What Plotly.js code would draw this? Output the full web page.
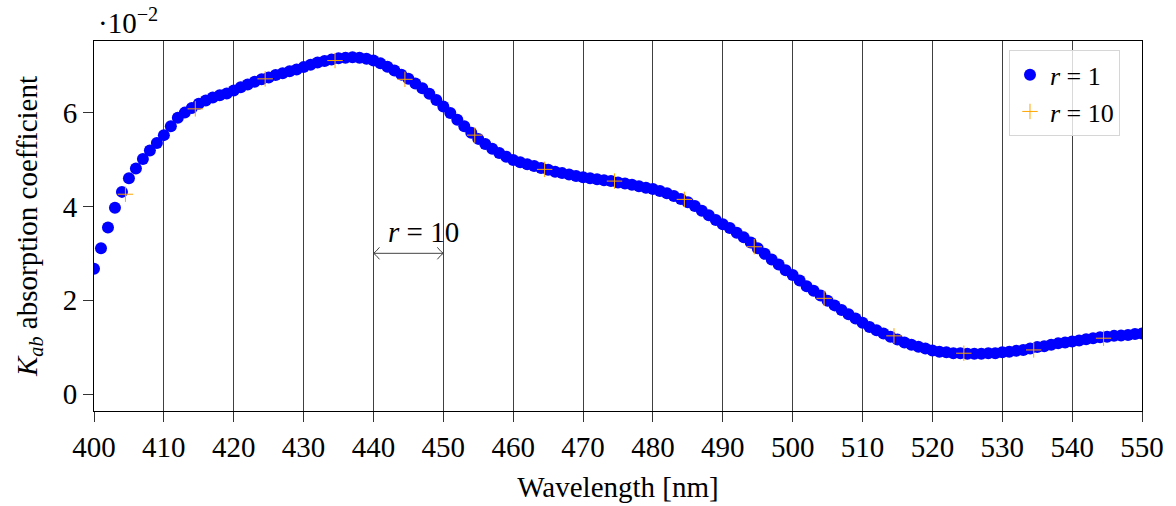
<!DOCTYPE html>
<html>
<head>
<meta charset="utf-8">
<script src="https://cdn.plot.ly/plotly-3.0.1.min.js"></script>
<style>html,body{margin:0;padding:0;background:#fff;}#chart{width:1176px;height:506px;}</style>
</head>
<body>
<div id="chart"></div>
<script>
// Wavelength grid (nm) for r = 1 series: one sample per nm from 400 to 550
const wlStart = 400, wlEnd = 550;
const kabR1 = [
  2.67,3.11,3.55,3.97,4.31,4.60,4.81,5.01,5.19,5.35,
  5.52,5.71,5.89,6.00,6.10,6.19,6.26,6.32,6.37,6.41,
  6.47,6.54,6.60,6.66,6.71,6.75,6.80,6.84,6.88,6.92,
  6.97,7.02,7.07,7.10,7.13,7.16,7.17,7.18,7.17,7.15,
  7.11,7.05,6.98,6.90,6.81,6.72,6.62,6.52,6.40,6.27,
  6.13,5.99,5.85,5.71,5.57,5.44,5.33,5.23,5.14,5.06,
  4.99,4.94,4.90,4.86,4.82,4.78,4.74,4.71,4.68,4.65,
  4.62,4.60,4.58,4.56,4.54,4.51,4.49,4.46,4.43,4.40,
  4.37,4.33,4.28,4.22,4.16,4.09,4.01,3.91,3.81,3.71,
  3.62,3.54,3.44,3.34,3.23,3.11,2.99,2.87,2.76,2.64,
  2.54,2.42,2.30,2.20,2.10,1.99,1.89,1.79,1.70,1.61,
  1.52,1.43,1.36,1.29,1.22,1.16,1.10,1.05,1.01,0.97,
  0.93,0.90,0.89,0.87,0.87,0.86,0.86,0.86,0.87,0.87,
  0.89,0.90,0.92,0.94,0.97,1.00,1.02,1.05,1.08,1.10,
  1.12,1.14,1.17,1.19,1.21,1.22,1.24,1.25,1.26,1.28,
  1.29
];
const wlR1 = [];
for (let w = wlStart; w <= wlEnd; w++) wlR1.push(w);

// r = 10 series
const wlR10 = [404.5,414.5,424.5,434.5,444.5,454.5,464.5,474.5,484.5,494.5,504.5,514.5,524.5,534.5,544.5];
const kabR10 = [4.26,6.08,6.72,7.11,6.71,5.52,4.79,4.54,4.15,3.14,2.04,1.24,0.87,0.94,1.19];

const xTicks = [400,410,420,430,440,450,460,470,480,490,500,510,520,530,540,550];
const yTicks = [0,2,4,6];

const FONT = "'Liberation Serif', 'DejaVu Serif', serif";
const FS = 29;

const traces = [
  {
    x: wlR1, y: kabR1, type: 'scatter', mode: 'markers', name: '<i>r</i> = 1',
    marker: {color: '#0000ff', size: 12, line: {width: 0}}
  },
  {
    x: wlR10, y: kabR10, type: 'scatter', mode: 'markers', name: '<i>r</i> = 10',
    marker: {color: '#ffa500', size: 11, symbol: 'cross-thin', line: {color: '#ffa500', width: 1}}
  }
];

const layout = {
  width: 1176, height: 506,
  margin: {l: 94, r: 34, t: 41, b: 95},
  paper_bgcolor: '#fff', plot_bgcolor: '#fff',
  font: {family: FONT, size: FS, color: '#000'},
  showlegend: true,
  legend: {
    x: 0.979, y: 0.975, xanchor: 'right', yanchor: 'top',
    bgcolor: 'rgba(255,255,255,0.8)', bordercolor: '#d6d6d6', borderwidth: 1,
    font: {family: FONT, size: 26}, itemwidth: 30, tracegroupgap: 0
  },
  xaxis: {
    range: [400, 550], tickvals: xTicks, ticktext: xTicks.map(String),
    showgrid: true, gridcolor: '#404040', gridwidth: 1,
    showline: true, linecolor: '#000', linewidth: 1, mirror: true,
    ticks: 'outside', ticklen: 10, tickcolor: '#333', tickwidth: 1,
    zeroline: false,
    tickfont: {family: FONT, size: FS},
    title: {text: 'Wavelength [nm]', font: {family: FONT, size: FS}, standoff: 14}
  },
  yaxis: {
    range: [-0.362, 7.527], tickvals: yTicks, ticktext: yTicks.map(String),
    showgrid: false, zeroline: false,
    showline: true, linecolor: '#000', linewidth: 1, mirror: true,
    ticks: 'outside', ticklen: 10, tickcolor: '#333', tickwidth: 1,
    tickfont: {family: FONT, size: FS},
    title: {text: '<i>K</i><sub><i>ab</i></sub> absorption coefficient', font: {family: FONT, size: FS}, standoff: 16}
  },
  annotations: [
    {xref: 'paper', yref: 'paper', x: 0, y: 1, xanchor: 'left', yanchor: 'bottom',
     xshift: 2, yshift: 0, showarrow: false, text: '·10<sup>−2</sup>', font: {family: FONT, size: FS}},
    {xref: 'x', yref: 'y', x: 447.2, y: 3.45, showarrow: false, text: '<i>r</i> = 10',
     font: {family: FONT, size: FS}}
  ],
  shapes: [
    {type: 'line', xref: 'x', yref: 'y', x0: 440, x1: 450, y0: 3, y1: 3, line: {color: '#444', width: 1}},
    {type: 'path', xref: 'x', yref: 'y', xsizemode: 'pixel', ysizemode: 'pixel', xanchor: 440, yanchor: 3,
     path: 'M 6,6 Q 2,1 0,0 Q 2,-1 6,-6', fillcolor: 'rgba(0,0,0,0)', line: {color: '#444', width: 1}},
    {type: 'path', xref: 'x', yref: 'y', xsizemode: 'pixel', ysizemode: 'pixel', xanchor: 450, yanchor: 3,
     path: 'M -6,6 Q -2,1 0,0 Q -2,-1 -6,-6', fillcolor: 'rgba(0,0,0,0)', line: {color: '#444', width: 1}}
  ]
};

Plotly.newPlot('chart', traces, layout, {displayModeBar: false, staticPlot: true});
</script>
</body>
</html>
